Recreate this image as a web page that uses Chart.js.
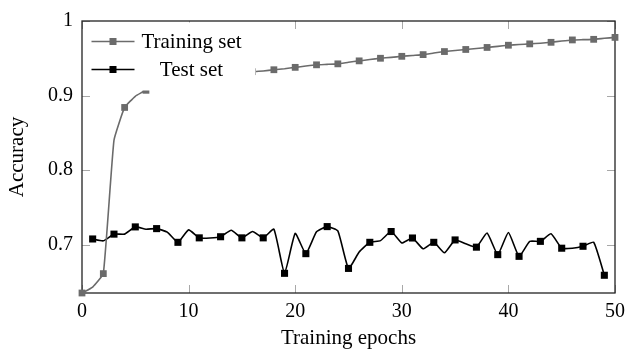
<!DOCTYPE html>
<html>
<head>
<meta charset="utf-8">
<script src="https://cdn.jsdelivr.net/npm/chart.js@4/dist/chart.umd.min.js"></script>
<style>
  html, body { margin: 0; padding: 0; background: #fff; }
  #wrap { width: 632px; height: 351px; }
</style>
</head>
<body>
<div id="wrap"><canvas id="chart" width="632" height="351"></canvas></div>
<script>
// epochs and accuracy
const trainEpochs = [0,1,2,3,4,5,6,7,8,9,10,11,12,13,14,15,16,17,18,19,20,21,22,23,24,25,
  26,27,28,29,30,31,32,33,34,35,36,37,38,39,40,41,42,43,44,45,46,47,48,49,50];
const trainAcc = [0.635,0.643,0.661,0.840,0.884,0.899,0.907,0.911,0.914,0.917,0.919,0.921,
  0.923,0.926,0.928,0.930,0.932,0.933,0.9346,0.936,0.9378,0.9396,0.9412,0.9418,0.9425,0.9446,
  0.9465,0.9483,0.950,0.9512,0.9526,0.9538,0.9549,0.957,0.959,0.9605,0.9618,0.963,0.9645,
  0.966,0.9675,0.9684,0.9693,0.9702,0.9714,0.9732,0.9746,0.975,0.9754,0.9768,0.978];

const testEpochs = [1,2,3,4,5,6,7,8,9,10,11,12,13,14,15,16,17,18,19,20,21,22,23,24,25,
  26,27,28,29,30,31,32,33,34,35,36,37,38,39,40,41,42,43,44,45,46,47,48,49];
const testAcc = [0.7075,0.705,0.714,0.714,0.7237,0.7206,0.7214,0.7167,0.703,0.7197,0.709,
  0.7088,0.7105,0.7193,0.709,0.7175,0.709,0.7206,0.6614,0.7149,0.6878,0.7171,0.7241,0.7184,
  0.668,0.6899,0.703,0.7053,0.7175,0.7022,0.7088,0.6943,0.703,0.689,0.7062,0.701,0.6965,
  0.7154,0.6865,0.7162,0.6842,0.7043,0.7043,0.7145,0.6951,0.6951,0.6977,0.703,0.6588];

const xTicks = [0,10,20,30,40,50];
const yTicks = [0.7,0.8,0.9,1];
const seriesNames = ['Training set','Test set'];

const FONT = "'Liberation Serif', 'DejaVu Serif', serif";
const GRAY = '#6b6b6b';

// frame + inward tick marks (pgfplots look)
const frame = {
  id: 'frame',
  beforeDatasetsDraw(chart) {
    const ctx = chart.ctx, a = chart.chartArea;
    const xs = chart.scales.x, ys = chart.scales.y;
    const len = 8;
    ctx.save();
    ctx.strokeStyle = '#a8a8a8';
    ctx.lineWidth = 1;
    ctx.beginPath();
    xTicks.forEach(v => {
      const px = Math.round(xs.getPixelForValue(v)) + 0.5;
      ctx.moveTo(px, a.bottom); ctx.lineTo(px, a.bottom - len);
      ctx.moveTo(px, a.top); ctx.lineTo(px, a.top + len);
    });
    yTicks.forEach(v => {
      const py = Math.round(ys.getPixelForValue(v)) + 0.5;
      ctx.moveTo(a.left, py); ctx.lineTo(a.left + len, py);
      ctx.moveTo(a.right, py); ctx.lineTo(a.right - len, py);
    });
    ctx.stroke();
    ctx.strokeStyle = '#222';
    ctx.lineWidth = 1.3;
    ctx.strokeRect(a.left, a.top, a.right - a.left, a.bottom - a.top);
    ctx.restore();
  }
};

// legend box in the upper left corner, drawn over the plot
const innerLegend = {
  id: 'innerLegend',
  afterDraw(chart) {
    const ctx = chart.ctx, a = chart.chartArea;
    const x0 = a.left + 1.5, y0 = a.top + 1.5, w = 172, h = 68;
    ctx.save();
    ctx.fillStyle = '#fff';
    ctx.fillRect(x0, y0, w, h);
    chart.data.datasets.forEach((ds, i) => {
      const y = y0 + 19 + i * 28;
      ctx.strokeStyle = ds.borderColor;
      ctx.lineWidth = 1.6;
      ctx.beginPath();
      ctx.moveTo(x0 + 8, y); ctx.lineTo(x0 + 51, y);
      ctx.stroke();
      ctx.fillStyle = ds.backgroundColor;
      ctx.fillRect(x0 + 29.5 - 3.5, y - 3.5, 7, 7);
      ctx.fillStyle = '#000';
      ctx.font = '21px ' + FONT;
      ctx.textAlign = 'center';
      ctx.textBaseline = 'middle';
      ctx.fillText(ds.label, x0 + 108, y + 1);
    });
    ctx.restore();
  }
};

const trainRadius = trainEpochs.map((e, i) => (i % 2 === 0 ? 4.8 : 0));
const testRadius = testEpochs.map((e, i) => (i % 2 === 0 ? 5 : 0));

new Chart(document.getElementById('chart'), {
  type: 'line',
  data: {
    datasets: [
      {
        label: seriesNames[0],
        data: trainEpochs.map((e, i) => ({ x: e, y: trainAcc[i] })),
        borderColor: GRAY,
        backgroundColor: GRAY,
        borderWidth: 1.6,
        pointStyle: 'rect',
        pointRadius: trainRadius,
        pointBorderWidth: 0,
        tension: 0.12,
        clip: false
      },
      {
        label: seriesNames[1],
        data: testEpochs.map((e, i) => ({ x: e, y: testAcc[i] })),
        borderColor: '#000',
        backgroundColor: '#000',
        borderWidth: 1.6,
        pointStyle: 'rect',
        pointRadius: testRadius,
        pointBorderWidth: 0,
        tension: 0.15,
        clip: false
      }
    ]
  },
  options: {
    responsive: false,
    animation: false,
    layout: { padding: { top: 16, right: 11, left: 0, bottom: 0 } },
    plugins: { legend: { display: false }, tooltip: { enabled: false } },
    scales: {
      x: {
        type: 'linear',
        min: 0,
        max: 50,
        afterBuildTicks: s => { s.ticks = xTicks.map(v => ({ value: v })); },
        afterFit: s => { s.height = 58; },
        grid: { display: false, drawTicks: false },
        border: { display: false },
        ticks: { padding: 7, color: '#000', font: { family: FONT, size: 20 }, maxRotation: 0 },
        title: { display: true, text: 'Training epochs', color: '#000',
                 font: { family: FONT, size: 21 }, padding: { top: 0, bottom: 0 } }
      },
      y: {
        type: 'linear',
        min: 0.635,
        max: 1,
        afterBuildTicks: s => { s.ticks = yTicks.map(v => ({ value: v })); },
        afterFit: s => { s.width = 82; },
        grid: { display: false, drawTicks: false },
        border: { display: false },
        ticks: { padding: 9, color: '#000', font: { family: FONT, size: 20 },
                 callback: v => String(Math.round(v * 10) / 10) },
        title: { display: true, text: 'Accuracy', color: '#000',
                 font: { family: FONT, size: 21 }, padding: { top: 5, bottom: 0 } }
      }
    }
  },
  plugins: [frame, innerLegend]
});
</script>
</body>
</html>
